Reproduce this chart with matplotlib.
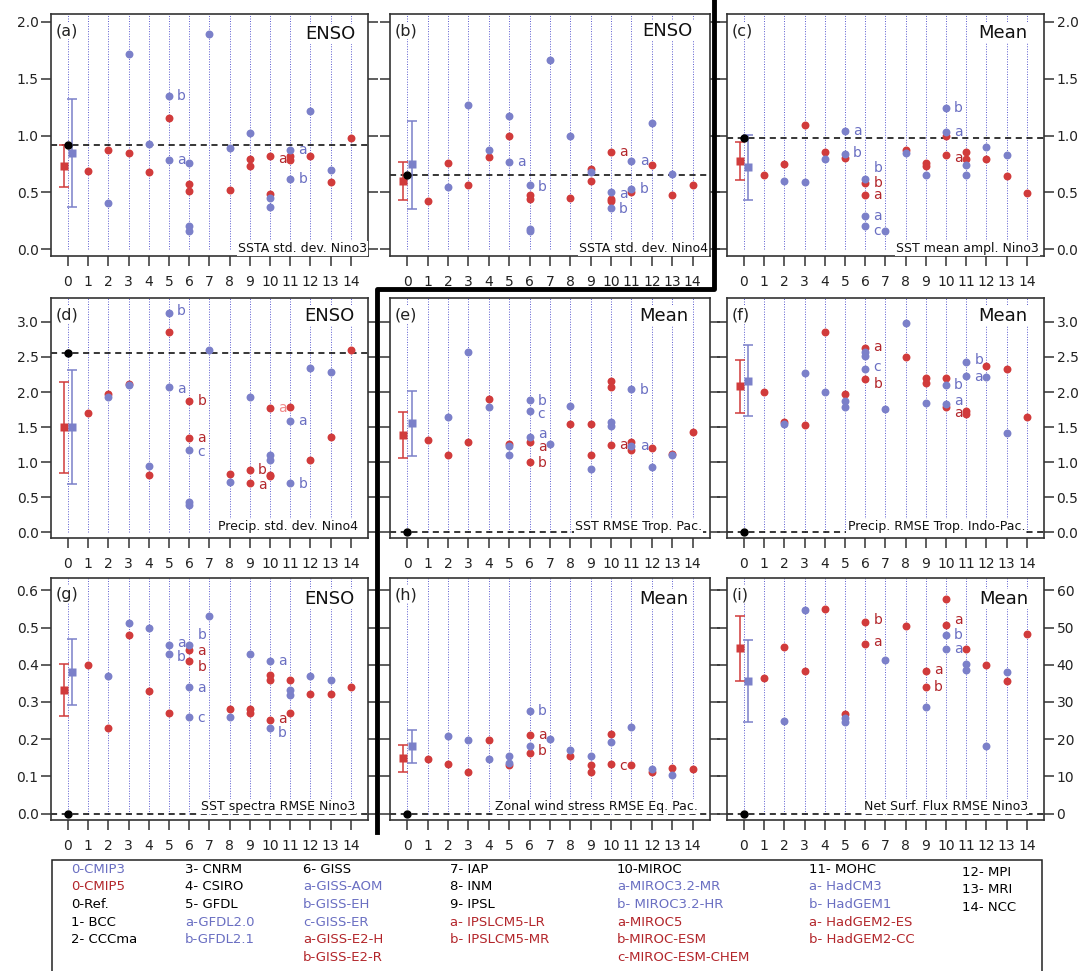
import matplotlib.pyplot as plt
from matplotlib.lines import Line2D
from matplotlib.patches import Rectangle

plt.rcParams["font.family"] = "DejaVu Sans"

W, H = 1086, 971

BLUE = "#7b80c9"
RED = "#d13b3b"
BLUE_TXT = "#6a6fc2"
RED_TXT = "#b3262b"
PINK_TXT = "#f08a8a"
GRID = "#5b5bd0"
FRAME = "#333333"

models = list(range(1, 15))
xticks = list(range(0, 15))

# one list per model 1..14, CMIP3 (blue) and CMIP5 (red) members
cmip3_a = [[], [0.41], [1.716], [0.925], [1.347, 0.788], [0.758, 0.208, 0.164], [1.897],
           [0.887], [1.019], [0.448, 0.369], [0.876, 0.618], [1.215], [0.694], []]
cmip5_a = [[0.685], [0.875], [0.85], [0.676], [1.157], [0.571, 0.515], [], [0.518],
           [0.79, 0.729], [0.817, 0.489], [0.823, 0.785], [0.817], [0.589], [0.975]]

cmip3_b = [[], [0.545], [1.268], [0.873], [1.171, 0.767], [0.568, 0.18, 0.16], [1.669],
           [0.998], [0.676], [0.50, 0.36], [0.78, 0.53], [1.11], [0.659], []]
cmip5_b = [[0.427], [0.761], [0.568], [0.808], [0.998], [0.477, 0.442], [], [0.448],
           [0.703, 0.60], [0.858, 0.442, 0.425], [0.507], [0.738], [0.477], [0.568]]

cmip3_c = [[], [0.597], [0.589], [0.796], [1.04, 0.84], [0.618, 0.29, 0.208], [0.161],
           [0.846], [0.656], [1.247, 1.031], [0.738, 0.653], [0.899], [0.826], []]
cmip5_c = [[0.656], [0.747], [1.095], [0.855], [0.805], [0.586, 0.474], [], [0.873],
           [0.755, 0.732], [0.998, 0.826], [0.858, 0.79], [0.796], [0.647], [0.498]]

cmip3_d = [[], [1.93], [2.10], [0.943], [3.13, 2.07], [1.18, 0.433, 0.386], [2.60],
           [0.719], [1.93], [1.105, 1.033], [1.586, 0.705], [2.343], [2.28], []]
cmip5_d = [[1.70], [1.97], [2.12], [0.82], [2.86], [1.87, 1.34], [], [0.833],
           [0.89, 0.705], [1.776, 0.824, 0.80], [1.79], [1.033], [1.362], [2.60]]

cmip3_e = [[], [1.639], [2.57], [1.79], [1.228, 1.10], [1.88, 1.724, 1.36], [1.261],
           [1.804], [0.907], [1.573, 1.512], [2.05, 1.238], [0.926], [1.10], []]
cmip5_e = [[1.313], [1.10], [1.285], [1.904], [1.256], [1.285, 0.997], [], [1.545],
           [1.54, 1.105], [2.154, 2.078, 1.247], [1.285, 1.181], [1.205], [1.124], [1.431]]

cmip3_f = [[], [1.538], [2.267], [1.995], [1.876, 1.781], [2.571, 2.519, 2.329], [1.752],
           [2.986], [1.843], [2.095, 1.824], [2.424, 2.229], [2.214], [1.414], []]
cmip5_f = [[2.005], [1.567], [1.524], [2.857], [1.967], [2.633, 2.181], [], [2.5],
           [2.20, 2.133], [2.195, 1.786], [1.733, 1.686], [2.371], [2.333], [1.643]]

cmip3_g = [[], [0.371], [0.512], [0.50], [0.453, 0.43], [0.453, 0.34, 0.26], [0.53],
           [0.26], [0.43], [0.41, 0.23], [0.332, 0.32], [0.37], [0.36], []]
cmip5_g = [[0.40], [0.23], [0.48], [0.33], [0.27], [0.439, 0.41], [], [0.281],
           [0.281, 0.271], [0.372, 0.359, 0.251], [0.36, 0.27], [0.321], [0.321], [0.34]]

cmip3_h = [[], [0.209], [0.199], [0.147], [0.155, 0.136], [0.275, 0.182], [0.2],
           [0.171], [0.155], [0.193], [0.232], [0.121], [0.103], []]
cmip5_h = [[0.147], [0.133], [0.111], [0.198], [0.131], [0.211, 0.162], [], [0.155],
           [0.13, 0.111], [0.214, 0.133], [0.13], [0.112], [0.124], [0.12]]

cmip3_i = [[], [25.0], [54.8], [], [25.6, 24.6], [], [41.3], [], [28.7], [48.1, 44.3],
           [40.3, 38.5], [18.3], [38.1], []]
cmip5_i = [[36.5], [44.9], [38.2], [55.1], [26.7], [51.5, 45.7], [], [50.5],
           [38.3, 33.9], [57.6, 50.7], [44.3], [39.9], [35.7], [48.3]]

# multi-model means with spread, panels a..i
ref_values = [0.92, 0.65, 0.975, 2.55, 0, 0, 0, 0, 0]
cmip5_mean = [0.73, 0.60, 0.776, 1.505, 1.393, 2.081, 0.332, 0.150, 44.5]
cmip5_low = [0.548, 0.43, 0.61, 0.85, 1.063, 1.705, 0.263, 0.112, 35.6]
cmip5_high = [0.917, 0.77, 0.94, 2.15, 1.715, 2.452, 0.403, 0.185, 53.2]
cmip3_mean = [0.85, 0.75, 0.726, 1.505, 1.554, 2.162, 0.381, 0.181, 35.6]
cmip3_low = [0.375, 0.357, 0.433, 0.695, 1.09, 1.662, 0.291, 0.137, 24.5]
cmip3_high = [1.32, 1.13, 1.004, 2.32, 2.017, 2.671, 0.47, 0.225, 46.6]

# member letters: (model, y, letter, series)
labels_a = [(5, 1.347, "b", "3"), (5, 0.788, "a", "3"), (10, 0.79, "a", "5"),
            (11, 0.873, "a", "3"), (11, 0.618, "b", "3")]
labels_b = [(5, 0.767, "a", "3"), (6, 0.55, "b", "3"), (10, 0.858, "a", "5"),
            (10, 0.486, "a", "3"), (10, 0.354, "b", "3"), (11, 0.776, "a", "3"),
            (11, 0.53, "b", "3")]
labels_c = [(5, 1.04, "a", "3"), (5, 0.849, "b", "3"), (6, 0.711, "b", "3"),
            (6, 0.586, "b", "5"), (6, 0.474, "a", "5"), (6, 0.29, "a", "3"),
            (6, 0.164, "c", "3"), (10, 1.247, "b", "3"), (10, 1.03, "a", "3"),
            (10, 0.805, "a", "5")]
labels_d = [(5, 3.157, "b", "3"), (5, 2.05, "a", "3"), (6, 1.87, "b", "5"),
            (6, 1.34, "a", "5"), (6, 1.148, "c", "3"), (9, 0.886, "b", "5"),
            (9, 0.671, "a", "5"), (10, 1.776, "a", "p"), (11, 1.586, "a", "3"),
            (11, 0.695, "b", "3")]
labels_e = [(6, 1.866, "b", "3"), (6, 1.686, "c", "3"), (6, 1.408, "a", "3"),
            (6, 1.219, "a", "5"), (6, 0.992, "b", "5"), (11, 2.031, "b", "3"),
            (10, 1.247, "a", "5"), (11, 1.238, "a", "3")]
labels_f = [(6, 2.643, "a", "5"), (6, 2.362, "c", "3"), (6, 2.11, "b", "5"),
            (10, 2.1, "b", "3"), (10, 1.871, "a", "3"), (10, 1.695, "a", "5"),
            (11, 2.452, "b", "3"), (11, 2.219, "a", "3")]
labels_g = [(5, 0.458, "a", "3"), (5, 0.421, "b", "3"), (6, 0.481, "b", "3"),
            (6, 0.438, "a", "5"), (6, 0.395, "b", "5"), (6, 0.338, "a", "3"),
            (6, 0.258, "c", "3"), (10, 0.41, "a", "3"), (10, 0.253, "a", "5"),
            (10, 0.217, "b", "3")]
labels_h = [(6, 0.275, "b", "3"), (6, 0.211, "a", "5"), (6, 0.167, "b", "5"),
            (10, 0.128, "c", "5")]
labels_i = [(6, 52.0, "b", "5"), (6, 46.2, "a", "5"), (9, 38.6, "a", "5"),
            (9, 34.1, "b", "5"), (10, 52.1, "a", "5"), (10, 48.1, "b", "3"),
            (10, 44.2, "a", "3")]

tags = ["(a)", "(b)", "(c)", "(d)", "(e)", "(f)", "(g)", "(h)", "(i)"]
kinds = ["ENSO", "ENSO", "Mean", "ENSO", "Mean", "Mean", "ENSO", "Mean", "Mean"]
captions = ["SSTA std. dev. Nino3", "SSTA std. dev. Nino4", "SST mean ampl. Nino3",
            "Precip. std. dev. Nino4", "SST RMSE Trop. Pac.", "Precip. RMSE Trop. Indo-Pac.",
            "SST spectra RMSE Nino3", "Zonal wind stress RMSE Eq. Pac.",
            "Net Surf. Flux RMSE Nino3"]

legend_cols = [
    (71, 869, [("0-CMIP3", BLUE_TXT), ("0-CMIP5", RED_TXT), ("0-Ref.", "k"),
               ("1- BCC", "k"), ("2- CCCma", "k")]),
    (185, 869, [("3- CNRM", "k"), ("4- CSIRO", "k"), ("5- GFDL", "k"),
                ("a-GFDL2.0", BLUE_TXT), ("b-GFDL2.1", BLUE_TXT)]),
    (303, 869, [("6- GISS", "k"), ("a-GISS-AOM", BLUE_TXT), ("b-GISS-EH", BLUE_TXT),
                ("c-GISS-ER", BLUE_TXT), ("a-GISS-E2-H", RED_TXT), ("b-GISS-E2-R", RED_TXT)]),
    (450, 869, [("7- IAP", "k"), ("8- INM", "k"), ("9- IPSL", "k"),
                ("a- IPSLCM5-LR", RED_TXT), ("b- IPSLCM5-MR", RED_TXT)]),
    (617, 869, [("10-MIROC", "k"), ("a-MIROC3.2-MR", BLUE_TXT), ("b- MIROC3.2-HR", BLUE_TXT),
                ("a-MIROC5", RED_TXT), ("b-MIROC-ESM", RED_TXT), ("c-MIROC-ESM-CHEM", RED_TXT)]),
    (809, 869, [("11- MOHC", "k"), ("a- HadCM3", BLUE_TXT), ("b- HadGEM1", BLUE_TXT),
                ("a- HadGEM2-ES", RED_TXT), ("b- HadGEM2-CC", RED_TXT)]),
    (962, 872, [("12- MPI", "k"), ("13- MRI", "k"), ("14- NCC", "k")]),
]

cmip3_all = [cmip3_a, cmip3_b, cmip3_c, cmip3_d, cmip3_e, cmip3_f, cmip3_g, cmip3_h, cmip3_i]
cmip5_all = [cmip5_a, cmip5_b, cmip5_c, cmip5_d, cmip5_e, cmip5_f, cmip5_g, cmip5_h, cmip5_i]
labels_all = [labels_a, labels_b, labels_c, labels_d, labels_e, labels_f, labels_g,
              labels_h, labels_i]

# layout in pixels: left, top, right, bottom
boxes = [(51, 14, 368, 256), (390, 14, 710, 256), (727, 14, 1044, 256),
         (51, 298, 368, 538), (390, 298, 710, 538), (727, 298, 1044, 538),
         (51, 578, 368, 820), (390, 578, 710, 820), (727, 578, 1044, 820)]
ylims = [(-0.06, 2.07)] * 3 + [(-0.08, 3.34)] * 3 + [(-0.017, 0.633)] * 2 + [(-1.7, 63.3)]
yticks = [[0, 0.5, 1.0, 1.5, 2.0]] * 3 + [[0, 0.5, 1.0, 1.5, 2.0, 2.5, 3.0]] * 3 \
    + [[0, 0.1, 0.2, 0.3, 0.4, 0.5, 0.6]] * 2 + [[0, 10, 20, 30, 40, 50, 60]]
yfmt = ["{:.1f}"] * 8 + ["{:.0f}"]
title_off = [(12, 11), (17, 8), (17, 10), (13, 9), (22, 9), (17, 9), (13, 12), (22, 12), (16, 12)]
caption_off = [(1, 4), (2, 4), (5, 4), (10, 8), (8, 8), (19, 8), (13, 10), (12, 10), (16, 10)]
series_col = {"3": BLUE_TXT, "5": RED_TXT, "p": PINK_TXT}

fig = plt.figure(figsize=(W / 100, H / 100), dpi=100)

for k in range(9):
    left, top, right, bottom = boxes[k]
    wpx, hpx = right - left, bottom - top
    ax = fig.add_axes([left / W, 1 - bottom / H, wpx / W, hpx / H])
    ylo, yhi = ylims[k]
    ax.set_xlim(-0.84, 14.85)
    ax.set_ylim(ylo, yhi)

    ax.vlines(xticks, 0, yhi, colors=GRID, linestyles=(0, (1, 1.6)), lw=0.7, zorder=1)
    ax.axhline(ref_values[k], color="k", ls=(0, (4, 3)), lw=1.1, zorder=2)

    for m, vals in zip(models, cmip5_all[k]):
        ax.plot([m] * len(vals), vals, "o", color=RED, ms=5.7, mec="none", zorder=3)
    for m, vals in zip(models, cmip3_all[k]):
        ax.plot([m] * len(vals), vals, "o", color=BLUE, ms=5.7, mec="none", zorder=4)

    ax.errorbar([-0.22], [cmip5_mean[k]],
                yerr=[[cmip5_mean[k] - cmip5_low[k]], [cmip5_high[k] - cmip5_mean[k]]],
                fmt="s", color=RED, ms=6.3, mec="none", capsize=3.5, elinewidth=1.1,
                capthick=1.1, zorder=5)
    ax.errorbar([0.22], [cmip3_mean[k]],
                yerr=[[cmip3_mean[k] - cmip3_low[k]], [cmip3_high[k] - cmip3_mean[k]]],
                fmt="s", color=BLUE, ms=6.3, mec="none", capsize=3.5, elinewidth=1.1,
                capthick=1.1, zorder=5)
    ax.plot([0], [ref_values[k]], "o", color="k", ms=5, zorder=6)

    for m, y, letter, s in labels_all[k]:
        ax.text(m + 0.4, y, letter, color=series_col[s], fontsize=10,
                ha="left", va="center", zorder=7)

    ax.text(5 / wpx, 1 - 9 / hpx, tags[k], transform=ax.transAxes, fontsize=11.5,
            ha="left", va="top", color="#222222",
            bbox=dict(facecolor="white", edgecolor="none", pad=0.5), zorder=8)
    dx, dy = title_off[k]
    ax.text(1 - dx / wpx, 1 - dy / hpx, kinds[k], transform=ax.transAxes, fontsize=13,
            ha="right", va="top", color="#111111",
            bbox=dict(facecolor="white", edgecolor="none", pad=0.5), zorder=8)
    dx, dy = caption_off[k]
    ax.text(1 - dx / wpx, dy / hpx, captions[k], transform=ax.transAxes, fontsize=9,
            ha="right", va="baseline", color="#111111",
            bbox=dict(facecolor="white", edgecolor="none", pad=1.0), zorder=8)

    col = k % 3
    ax.set_xticks(xticks)
    ax.set_xticklabels([str(t) for t in xticks])
    ax.set_yticks(yticks[k])
    ax.set_yticklabels([yfmt[k].format(t) for t in yticks[k]])
    ax.tick_params(axis="both", direction="out", length=7, width=1.1, color=FRAME,
                   labelsize=10, labelcolor="#222222")
    ax.tick_params(axis="x", pad=6.5)
    ax.tick_params(axis="y", left=True, right=True, labelleft=(col == 0),
                   labelright=(col == 2), pad=2)
    for sp in ax.spines.values():
        sp.set_color(FRAME)
        sp.set_linewidth(1.2)

# thick separator between ENSO and Mean panels
fig.add_artist(Line2D([714 / W, 714 / W, 377 / W, 377 / W],
                      [1, 1 - 289 / H, 1 - 289 / H, 1 - 832 / H],
                      color="k", lw=3.5, transform=fig.transFigure))

fig.add_artist(Rectangle((52 / W, -0.01), (1042 - 52) / W, 0.01 + (H - 860) / H,
                         fill=False, edgecolor="#222222", lw=1.1,
                         transform=fig.transFigure))

for x0, y0, entries in legend_cols:
    for j, (name, color) in enumerate(entries):
        fig.text(x0 / W, 1 - (y0 + j * 17.7) / H, name, color=color, fontsize=9.5,
                 ha="left", va="center")

fig.savefig("out.png", dpi=100)
